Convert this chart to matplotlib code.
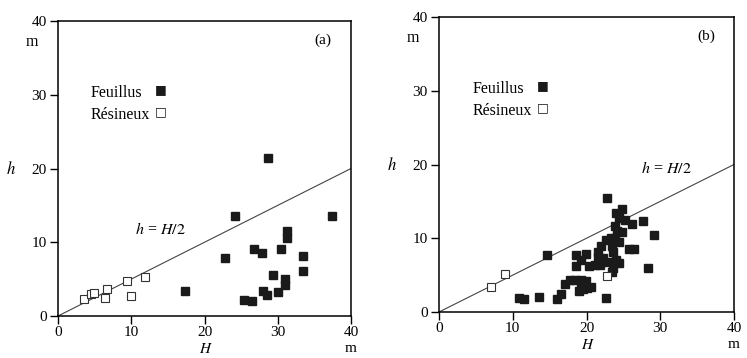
import numpy as np
import matplotlib
matplotlib.use("Agg")
import matplotlib.pyplot as plt

plt.rcParams['font.family'] = ['Liberation Serif', 'DejaVu Serif']

# (a) hauteurs mesurées
feuillus_a_H = [28.7, 24.2, 37.4, 31.3, 31.3, 22.8, 26.8, 27.9, 30.4, 33.4,
                33.4, 29.4, 31.0, 31.0, 28.0, 28.5, 30.0, 25.4, 26.5, 17.4]
feuillus_a_h = [21.4, 13.5, 13.6, 11.5, 10.6, 7.9, 9.1, 8.5, 9.1, 8.1,
                6.1, 5.6, 5.0, 4.2, 3.4, 2.9, 3.3, 2.2, 2.0, 3.4]
resineux_a_H = [3.6, 4.5, 4.9, 6.4, 6.7, 9.4, 9.9, 11.9]
resineux_a_h = [2.3, 3.0, 3.1, 2.4, 3.7, 4.8, 2.7, 5.3]

# (b)
feuillus_b_H = [22.8, 24.0, 24.8, 24.4, 25.2, 26.2, 27.7, 29.2, 28.3, 25.8,
                26.5, 23.8, 24.8, 24.2, 23.8, 24.4, 22.7, 23.3, 22.0, 21.6,
                21.6, 23.4, 23.6, 24.0, 24.4, 23.6, 23.5, 21.1, 21.8, 20.4,
                22.9, 22.3, 18.6, 19.9, 19.2, 18.6, 14.6, 22.6, 10.9, 11.5,
                13.5, 16.0, 16.6, 17.1, 17.7, 18.5, 19.3, 19.9, 19.0, 19.5,
                20.1, 20.6, 19.2]
feuillus_b_h = [15.4, 13.4, 13.9, 12.8, 12.5, 12.0, 12.4, 10.5, 5.9, 8.5,
                8.5, 11.6, 10.9, 11.0, 10.0, 9.5, 9.8, 10.1, 9.0, 8.2,
                7.4, 8.9, 8.2, 7.1, 6.6, 6.0, 5.4, 6.4, 6.4, 6.3,
                6.8, 7.3, 7.7, 7.9, 7.0, 6.3, 7.7, 1.9, 1.9, 1.7,
                2.1, 1.8, 2.4, 3.8, 4.4, 4.4, 4.4, 4.2, 2.8, 3.1,
                3.2, 3.4, 3.5]
resineux_b_H = [7.0, 9.0, 22.8]
resineux_b_h = [3.4, 5.2, 4.9]

ticks = [0, 10, 20, 30, 40]
legend_labels = ['Feuillus', 'Résineux']
legend_keys = ['■', '□']

fig = plt.figure(figsize=(7.47, 3.58), dpi=100)
W, Hpx = 747, 358


def make_axes(left, right, top, bottom):
    return fig.add_axes([left / W, 1 - bottom / Hpx, (right - left) / W, (bottom - top) / Hpx])


ax_a = make_axes(58, 351, 21, 316)
ax_b = make_axes(439, 734, 17, 312)

panels = [
    (ax_a, feuillus_a_H, feuillus_a_h, resineux_a_H, resineux_a_h, '(a)', (14.0, 11.7)),
    (ax_b, feuillus_b_H, feuillus_b_h, resineux_b_H, resineux_b_h, '(b)', (30.8, 19.4)),
]

for ax, fH, fh, rH, rh, tag, lab_pos in panels:
    xs = np.array([0, 40])
    ax.plot(xs, xs / 2, color='#444444', lw=0.8, zorder=1)
    ax.plot(fH, fh, 's', color='#1a1a1a', ms=5.8, mec='#1a1a1a', ls='none', zorder=3)
    ax.plot(rH, rh, 's', mfc='white', mec='#333333', mew=0.8, ms=6, ls='none', zorder=3)

    ax.set_xlim(0, 40)
    ax.set_ylim(0, 40)
    ax.set_xticks(ticks)
    ax.set_yticks(ticks)
    ax.tick_params(direction='out', length=6, width=1, labelsize=11, pad=2)
    ax.tick_params(axis='x', pad=1)
    for s in ax.spines.values():
        s.set_linewidth(1.1)

    # légende : texte puis symbole
    for i, (lab, key) in enumerate(zip(legend_labels, legend_keys)):
        yy = 30.3 - 3.0 * i
        ax.text(4.5, yy, lab, ha='left', va='center', fontsize=11.5)
        ax.text(14.0, yy + 0.4, key, ha='center', va='center', fontsize=9,
                family='DejaVu Sans', color='#1a1a1a')

    ax.text(36.2, 37.4, tag, ha='center', va='center', fontsize=11)
    ax.text(lab_pos[0], lab_pos[1], r'$h$ = $H/2$', ha='center', va='center', fontsize=11.5,
            math_fontfamily='stix')

    ax.text(-3.5, 37.2, 'm', ha='center', va='center', fontsize=11.5, clip_on=False)
    ax.text(40, -4.4, 'm', ha='center', va='center', fontsize=11, clip_on=False)
    ax.text(-6.4, 19.8, r'$h$', ha='center', va='center', fontsize=12,
            math_fontfamily='stix', clip_on=False)
    ax.text(20.2, -4.5, r'$H$', ha='center', va='center', fontsize=11,
            math_fontfamily='stix', clip_on=False)

fig.savefig('out.png', dpi=100)
